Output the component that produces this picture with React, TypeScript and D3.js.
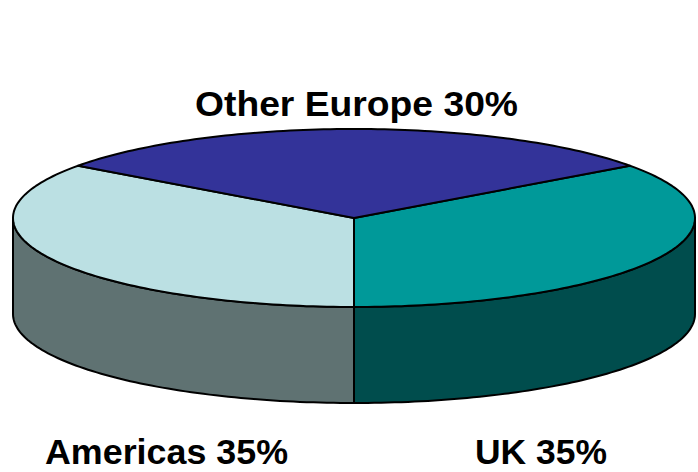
import React from "react";
import * as d3 from "d3";

const regions = ["UK", "Americas", "Other Europe"];
const shares = [35, 35, 30];
const topColors = ["#009999", "#BBE0E3", "#333399"];
const sideColors = ["#004D4D", "#5F7272", "#1F1F66"];

const W = 698;
const H = 472;
const cx = 354;
const cy = 218;
const rx = 341;
const ry = 89;
const depth = 96;

// d3 angle (0 at 12 o'clock, clockwise) -> point on the tilted ellipse
const pt = (a: number, dy = 0): [number, number] => [
  cx + rx * Math.sin(a),
  cy - ry * Math.cos(a) + dy,
];

const arcPoints = (a0: number, a1: number, dy = 0) => {
  const n = Math.max(2, Math.ceil(Math.abs(a1 - a0) / 0.02));
  return d3.range(n + 1).map((i) => pt(a0 + ((a1 - a0) * i) / n, dy));
};

const line = d3.line();

const App = () => {
  const pie = d3
    .pie<number>()
    .sort(null)
    .startAngle((54 * Math.PI) / 180)
    .endAngle((414 * Math.PI) / 180);
  const arcs = pie(shares);

  // front half of the side wall lies between d3 angles 90deg and 270deg
  const sides = arcs
    .map((d, i) => {
      const a0 = Math.max(d.startAngle, Math.PI / 2);
      const a1 = Math.min(d.endAngle, (3 * Math.PI) / 2);
      if (a1 <= a0) return null;
      const top = arcPoints(a0, a1);
      const bottom = arcPoints(a1, a0, depth);
      return { i, path: line([...top, ...bottom])! + "Z" };
    })
    .filter(Boolean) as { i: number; path: string }[];

  const tops = arcs.map((d, i) => {
    const pts = [[cx, cy] as [number, number], ...arcPoints(d.startAngle, d.endAngle)];
    return { i, path: line(pts)! + "Z" };
  });

  return (
    <svg width={W} height={H} style={{ position: "absolute", left: 0, top: 0 }}>
      <rect width={W} height={H} fill="#fff" />
      <g stroke="#000" strokeWidth={2} strokeLinejoin="round">
        {sides.map((s) => (
          <path key={"s" + s.i} d={s.path} fill={sideColors[s.i]} />
        ))}
        {tops.map((t) => (
          <path key={"t" + t.i} d={t.path} fill={topColors[t.i]} />
        ))}
      </g>
      <g fontFamily="'Liberation Sans', Arial, sans-serif" fontWeight="bold" fontSize={35} fill="#000">
        <text x={195} y={116} textLength={323} lengthAdjust="spacingAndGlyphs">{`${regions[2]} ${shares[2]}%`}</text>
        <text x={45} y={464} textLength={243} lengthAdjust="spacingAndGlyphs">{`${regions[1]} ${shares[1]}%`}</text>
        <text x={475} y={464} textLength={132} lengthAdjust="spacingAndGlyphs">{`${regions[0]} ${shares[0]}%`}</text>
      </g>
    </svg>
  );
};

export default App;
